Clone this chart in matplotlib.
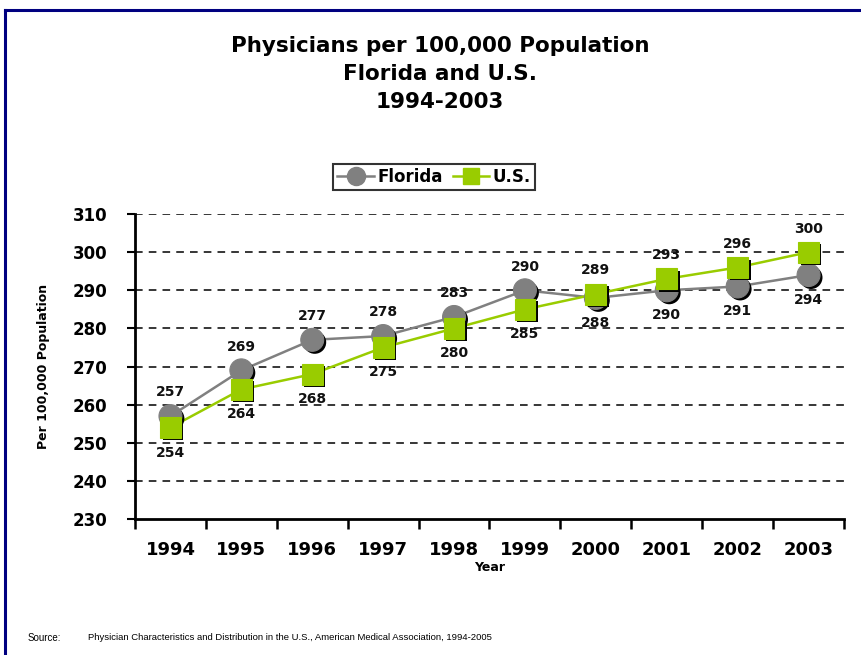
import matplotlib
matplotlib.use("Agg")
import matplotlib.pyplot as plt
import matplotlib.patheffects as pe
from matplotlib.lines import Line2D

years = ["1994", "1995", "1996", "1997", "1998", "1999", "2000", "2001", "2002", "2003"]
florida = [257, 269, 277, 278, 283, 290, 288, 290, 291, 294]
us = [254, 264, 268, 275, 280, 285, 289, 293, 296, 300]
yticks = [230, 240, 250, 260, 270, 280, 290, 300, 310]

GRAY = "#808080"
GREEN = "#99CC00"
NAVY = "#000080"

fig = plt.figure(figsize=(8.62, 6.55), dpi=100)
ax = fig.add_axes([0.1566, 0.2076, 0.8225, 0.4656])

x = list(range(len(years)))
shadow = [pe.SimplePatchShadow(offset=(1.8, -1.8), shadow_rgbFace="black", alpha=1.0), pe.Normal()]

for vals, col, mk, ms in [(florida, GRAY, "o", 16.5), (us, GREEN, "s", 15)]:
    ax.plot(x, vals, color=col, lw=1.8, zorder=3)
    ax.plot(x, vals, ls="none", marker=mk, ms=ms, mfc=col, mec=col, mew=0.8,
            zorder=4, path_effects=shadow)

# data labels: higher series above, lower below
for i in x:
    for vals, other in [(florida, us), (us, florida)]:
        above = vals[i] >= other[i]
        ax.annotate(str(vals[i]), (i, vals[i]), xytext=(0, 17 if above else -18),
                    textcoords="offset points", ha="center", va="center",
                    fontsize=10, fontweight="bold", color="#111111", zorder=5)

ax.set_xlim(-0.5, len(years) - 0.5)
ax.set_ylim(230, 310)
ax.set_yticks(yticks)
ax.set_yticklabels([str(v) for v in yticks], fontsize=12, fontweight="bold")
ax.set_xticks(x)
ax.set_xticklabels(years, fontsize=13, fontweight="bold")
ax.set_xticks([i - 0.5 for i in range(len(years) + 1)], minor=True)
ax.tick_params(axis="x", which="major", length=0, pad=16)
ax.tick_params(axis="x", which="minor", length=7, width=1.8, direction="out")
ax.tick_params(axis="y", length=6, width=1.5, direction="out", pad=14)

for v in yticks[1:]:
    ax.axhline(v, color="black", lw=1.1, ls=(0, (5, 4)), zorder=1)

for s in ["top", "right"]:
    ax.spines[s].set_visible(False)
for s in ["left", "bottom"]:
    ax.spines[s].set_linewidth(2)

ax.set_xlabel("Year", fontsize=9, fontweight="bold", labelpad=1)
ax.set_ylabel("Per 100,000 Population", fontsize=9, fontweight="bold", labelpad=16)

handles = [
    Line2D([], [], color=GRAY, lw=1.8, marker="o", ms=13, mfc=GRAY, mec=GRAY),
    Line2D([], [], color=GREEN, lw=1.8, marker="s", ms=11, mfc=GREEN, mec=GREEN),
]
leg = fig.legend(handles, ["Florida", "U.S."], loc="center", bbox_to_anchor=(0.5035, 0.7298),
                 ncol=2, frameon=True, fancybox=False, handlelength=2.2, handletextpad=0.2,
                 columnspacing=0.6, borderpad=0.25, prop={"weight": "bold", "size": 12})
leg.get_frame().set_edgecolor("black")
leg.get_frame().set_linewidth(1.5)

title_lines = ["Physicians per 100,000 Population", "Florida and U.S.", "1994-2003"]
for k, t in enumerate(title_lines):
    fig.text(440 / 862, 1 - (46 + 28 * k) / 655, t, ha="center", va="center",
             fontsize=15.5, fontweight="bold")

fig.text(28 / 862, 1 - 638 / 655, "Source:", fontsize=7, family="Liberation Sans", va="center")
fig.text(88 / 862, 1 - 638 / 655,
         "Physician Characteristics and Distribution in the U.S., American Medical Association, 1994-2005",
         fontsize=6.8, family="Liberation Sans", va="center")

# page frame
fig.add_artist(Line2D([5 / 862, 5 / 862], [0, 1 - 10 / 655], color=NAVY, lw=2.2))
fig.add_artist(Line2D([5 / 862, 1], [1 - 10 / 655, 1 - 10 / 655], color=NAVY, lw=2.2))

fig.savefig("out.png", dpi=100)
